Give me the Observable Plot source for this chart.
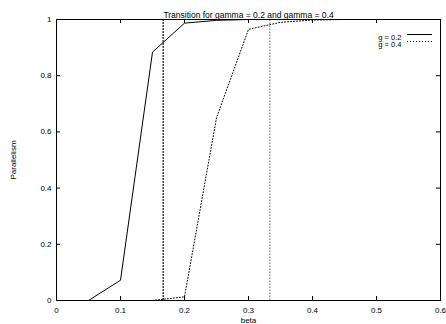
<!DOCTYPE html>
<html><head><meta charset="utf-8">
<script src="https://cdn.jsdelivr.net/npm/d3@7"></script>
<script src="https://cdn.jsdelivr.net/npm/@observablehq/plot@0.6"></script>
<style>body{margin:0;background:#fff}</style>
</head><body><div id="chart"></div>
<script>
const beta02 = [0.05, 0.1, 0.15, 0.2, 0.25, 0.3, 0.35, 0.4, 0.45, 0.5, 0.55, 0.6];
const par02  = [0, 0.072, 0.884, 0.987, 0.997, 1, 1, 1, 1, 1, 1, 1];
const beta04 = [0.15, 0.2, 0.25, 0.3, 0.35, 0.4, 0.45, 0.5, 0.55, 0.6];
const par04  = [0, 0.013, 0.65, 0.965, 0.99, 0.998, 1, 1, 1, 1];
const thresholds = [1/6, 1/3];
const xTicks = [0, 0.1, 0.2, 0.3, 0.4, 0.5, 0.6];
const yTicks = [0, 0.2, 0.4, 0.6, 0.8, 1];
const title = "Transition for gamma = 0.2 and gamma = 0.4";
const legendLabels = ["g = 0.2", "g = 0.4"];

const s02 = beta02.map((b, i) => ({beta: b, p: par02[i]}));
const s04 = beta04.map((b, i) => ({beta: b, p: par04[i]}));
const font = "'Liberation Sans', Arial, sans-serif";
const W = 446, H = 324, mL = 56, mR = 6, mT = 19, mB = 24;
const tickPx = 4;
const tx = tickPx / (W - mL - mR) * 0.6;   // tick length in x data units
const ty = tickPx / (H - mT - mB);          // tick length in y data units

const chart = Plot.plot({
  width: W, height: H,
  marginLeft: mL, marginRight: mR, marginTop: mT, marginBottom: mB,
  style: {fontFamily: font, fontSize: "8px", background: "#fff", color: "#000"},
  x: {domain: [0, 0.6]},
  y: {domain: [0, 1]},
  marks: [
    Plot.axisX({ticks: xTicks, tickSize: 0, tickPadding: 7, tickFormat: d => String(d), label: "beta", labelAnchor: "center", labelArrow: "none", labelOffset: 22, fontSize: 8}),
    Plot.axisY({ticks: yTicks, tickSize: 0, tickPadding: 5, tickFormat: d => String(d), label: "Parallelism", labelAnchor: "center", labelArrow: "none", labelOffset: 46, fontSize: 8}),
    // inward ticks (bottom, top, left, right)
    Plot.ruleX(xTicks, {x: d => d, y1: 0, y2: ty, stroke: "#000"}),
    Plot.ruleX(xTicks, {x: d => d, y1: 1 - ty, y2: 1, stroke: "#000"}),
    Plot.ruleY(yTicks, {y: d => d, x1: 0, x2: tx, stroke: "#000"}),
    Plot.ruleY(yTicks, {y: d => d, x1: 0.6 - tx, x2: 0.6, stroke: "#000"}),
    // threshold lines
    Plot.ruleX([thresholds[0]], {x: d => d, y1: 0, y2: 1, stroke: "#222", strokeWidth: 1.3, strokeDasharray: "2,1"}),
    Plot.ruleX([thresholds[1]], {x: d => d, y1: 0, y2: 1, stroke: "#555", strokeWidth: 0.9, strokeDasharray: "1.5,1.5"}),
    // series
    Plot.line(s02, {x: "beta", y: "p", stroke: "#000", strokeWidth: 1}),
    Plot.line(s04, {x: "beta", y: "p", stroke: "#000", strokeWidth: 1, strokeDasharray: "1,2"}),
    Plot.frame({stroke: "#000", strokeWidth: 1}),
    Plot.text([title], {frameAnchor: "top", dy: -8, text: d => d, fontSize: 8.5, fill: "#000"}),
    // legend
    Plot.text([legendLabels[0]], {frameAnchor: "top-right", dx: -39, dy: 15, text: d => d, textAnchor: "end", fontSize: 7.5, fill: "#000"}),
    Plot.text([legendLabels[1]], {frameAnchor: "top-right", dx: -39, dy: 22.5, text: d => d, textAnchor: "end", fontSize: 7.5, fill: "#000"})
  ]
});
document.getElementById("chart").appendChild(chart);
// legend samples
const svg = d3.select(chart.tagName === "svg" ? chart : chart.querySelector("svg"));
svg.append("line").attr("x1", 407).attr("x2", 432).attr("y1", 34.5).attr("y2", 34.5).attr("stroke", "#000").attr("stroke-width", 1);
svg.append("line").attr("x1", 407).attr("x2", 432).attr("y1", 41.5).attr("y2", 41.5).attr("stroke", "#000").attr("stroke-width", 1).attr("stroke-dasharray", "1,2");
</script></body></html>
